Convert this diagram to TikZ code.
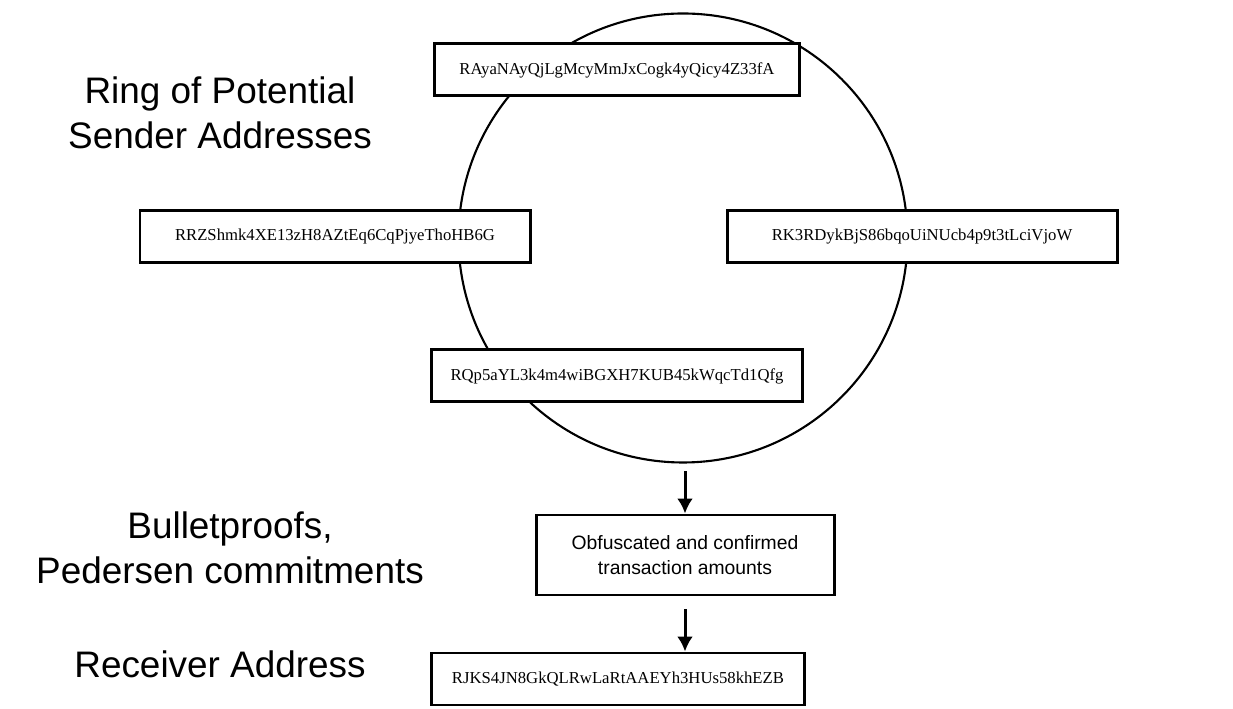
\documentclass[tikz,border=0pt]{standalone}
\usepackage{fontspec}
\setmainfont{Liberation Serif}
\setsansfont{Liberation Sans}
\usetikzlibrary{positioning,arrows.meta,calc}

\begin{document}
\begin{tikzpicture}[
addr/.style={
  draw,
  fill=white,
  line width=1.7pt,
  minimum width=7.4cm,
  minimum height=1.04cm,
  font=\fontsize{9.5}{11}\selectfont
  },
label/.style={
  align=center,
  font=\sffamily\fontsize{21}{25.5}\selectfont
  },
flow/.style={
  -{Latex[length=3mm,width=3.2mm]},
  line width=1.7pt
  }
]
\useasboundingbox (0,0) rectangle (24.66,14.18);

% ring of senders
\node[draw, circle, line width=1.2pt, minimum size=8.98cm, inner sep=0pt] at (13.66,9.42) (ring) {};

\node[addr, minimum width=7.3cm] at (12.34,12.78) (ra) {RAyaNAyQjLgMcyMmJxCogk4yQicy4Z33fA};
\node[addr, minimum width=7.8cm] at (6.70,9.44) (rr) {RRZShmk4XE13zH8AZtEq6CqPjyeThoHB6G};
\node[addr, minimum width=7.8cm] at (18.44,9.44) (rk) {RK3RDykBjS86bqoUiNUcb4p9t3tLciVjoW};
\node[addr, minimum width=7.42cm] at (12.34,6.66) (rq) {RQp5aYL3k4m4wiBGXH7KUB45kWqcTd1Qfg};

% amounts and receiver
\node[draw, line width=1.7pt, minimum width=5.96cm, minimum height=1.6cm, align=center,
  font=\sffamily\fontsize{11}{14}\selectfont] at (13.70,3.08) (amounts)
  {Obfuscated and confirmed\\transaction amounts};
\node[addr, minimum width=7.46cm] at (12.36,0.60) (recv) {RJKS4JN8GkQLRwLaRtAAEYh3HUs58khEZB};

\draw[flow] ([yshift=-0.15cm]ring.south -| amounts.north) -- (amounts.north);
\draw[flow, shorten <=0.26cm] (amounts.south) -- (amounts.south |- recv.north);

% left hand labels
\node[label] at (4.40,11.93) (ringlbl) {Ring of Potential\\Sender Addresses};
\node[label] at (4.60,3.23) (bplbl) {Bulletproofs,\\Pedersen commitments};
\node[label] at (4.40,0.90) (recvlbl) {Receiver Address};

\end{tikzpicture}
\end{document}
